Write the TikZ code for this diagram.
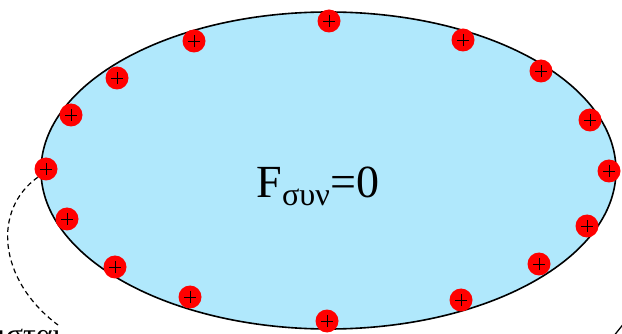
\documentclass[tikz,border=0pt]{standalone}
\usepackage{fontspec}
\setmainfont{Liberation Serif}
\usetikzlibrary{shapes.geometric}
\definecolor{skyfill}{RGB}{176,232,252}
\begin{document}
\begin{tikzpicture}[
  x=1pt, y=-1pt,
  sphere/.style={
    draw,
    ellipse,
    fill=skyfill,
    line width=1.6pt,
    minimum width=575pt,
    minimum height=317pt,
    inner sep=0pt
  },
  charge/.style={
    circle,
    fill=red,
    minimum size=23pt,
    inner sep=0pt,
    path picture={
      \draw[line width=0.6pt] (path picture bounding box.center) +(-6pt,0) -- +(6pt,0);
      \draw[line width=0.6pt] (path picture bounding box.center) +(0,-6pt) -- +(0,6pt);
    }
  },
  link/.style={dashed, dash pattern=on 5pt off 3.5pt, line width=1.2pt}
]
\clip (0,0) rectangle (622,334);
\node[sphere] (body) at (328.5,170.5) {};
\node (force) at (318,186) {\fontsize{46}{50}\selectfont F\textsubscript{συν}=0};

\foreach \name/\px/\py in {q1/329/21, q2/463/40, q3/541/71, q4/590/120,
  q5/609/171, q6/587/226, q7/539/264, q8/461/300, q9/327/321, q10/190/297,
  q11/115/267, q12/67/219, q13/46/169, q14/71/115, q15/117/78, q16/194/41}
  \node[charge] (\name) at (\px,\py) {};

\node[anchor=base west, inner sep=0pt] (lbl) at (-3,345)
  {\fontsize{32}{36}\selectfont ισται};
\coordinate (lblend) at (58,325);
\draw[link] (q13.south west) .. controls (-8,210) and (-2,280) .. (lblend);

\coordinate (rstart) at (613,337);
\coordinate (rend) at (625,322);
\draw[line width=1.3pt] (rstart) -- (rend);
\end{tikzpicture}
\end{document}
